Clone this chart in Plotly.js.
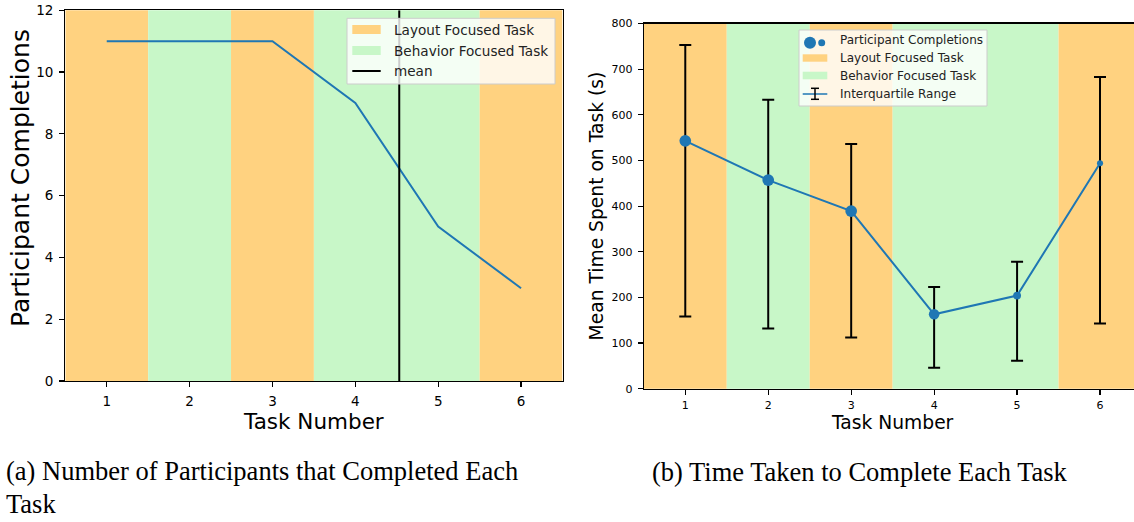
<!DOCTYPE html>
<html>
<head>
<meta charset="utf-8">
<script src="https://cdn.plot.ly/plotly-3.0.1.min.js"></script>
<style>
html,body{margin:0;padding:0;background:#fff;overflow:hidden;}
#chart{width:1142px;height:522px;}
</style>
</head>
<body>
<div id="chart"></div>
<script>
// ---------------- data ----------------
const tasks = [1, 2, 3, 4, 5, 6];
const taskTypes = ['Layout Focused Task', 'Behavior Focused Task', 'Layout Focused Task',
                   'Behavior Focused Task', 'Behavior Focused Task', 'Layout Focused Task'];
const completions = [11, 11, 11, 9, 5, 3];
const meanTaskLine = [4.53];
const meanTime = [543, 457, 389, 163, 204, 494];
const q1Time = [158, 132, 112, 46, 61, 143];
const q3Time = [753, 633, 536, 223, 278, 683];
const xTickLabels = ['1', '2', '3', '4', '5', '6'];

// ---------------- layout helpers ----------------
const W = 1142, H = 522;
const px = x => x / W;
const py = y => 1 - y / H;
const typeColor = {
  'Layout Focused Task': '#FFD280',
  'Behavior Focused Task': '#C8F7C8'
};
const FONT = 'DejaVu Sans';

// group consecutive tasks of the same type into bands
function bands(xref) {
  const out = [];
  let start = 0;
  for (let i = 1; i <= tasks.length; i++) {
    if (i === tasks.length || taskTypes[i] !== taskTypes[start]) {
      out.push({
        type: 'rect', xref: xref, yref: (xref === 'x' ? 'y' : 'y2') + ' domain',
        x0: tasks[start] - 0.5, x1: tasks[i - 1] + 0.5, y0: 0, y1: 1,
        fillcolor: typeColor[taskTypes[start]], line: {width: 0}, layer: 'below'
      });
      start = i;
    }
  }
  return out;
}

// ---------------- traces ----------------
const traces = [
  {
    x: tasks, y: completions, xaxis: 'x', yaxis: 'y', type: 'scatter', mode: 'lines',
    line: {color: '#1f77b4', width: 2}, showlegend: false
  },
  {
    x: [meanTaskLine[0], meanTaskLine[0]], y: [0, 12], xaxis: 'x', yaxis: 'y',
    type: 'scatter', mode: 'lines', line: {color: '#000', width: 2}, showlegend: false
  },
  {
    x: tasks, y: meanTime, xaxis: 'x2', yaxis: 'y2', type: 'scatter', mode: 'lines+markers',
    line: {color: '#1f77b4', width: 2},
    marker: {color: '#1f77b4', size: completions, sizemode: 'area', sizeref: 0.1607,
             opacity: 1, line: {width: 0}},
    error_y: {
      type: 'data', symmetric: false,
      array: q3Time.map((v, i) => v - meanTime[i]),
      arrayminus: meanTime.map((v, i) => v - q1Time[i]),
      color: '#000', thickness: 2, width: 6
    },
    showlegend: false
  }
];

// ---------------- legends (drawn) ----------------
const legendShapes = [
  // left legend
  {type: 'rect', xref: 'paper', yref: 'paper', x0: px(347), x1: px(555), y0: py(18.3), y1: py(84),
   fillcolor: 'rgba(255,255,255,0.8)', line: {color: '#cccccc', width: 1}, layer: 'above'},
  {type: 'rect', xref: 'paper', yref: 'paper', x0: px(352.3), x1: px(380.7), y0: py(25), y1: py(34),
   fillcolor: typeColor['Layout Focused Task'], line: {width: 0}, layer: 'above'},
  {type: 'rect', xref: 'paper', yref: 'paper', x0: px(352.3), x1: px(380.7), y0: py(46), y1: py(55),
   fillcolor: typeColor['Behavior Focused Task'], line: {width: 0}, layer: 'above'},
  {type: 'line', xref: 'paper', yref: 'paper', x0: px(352.3), x1: px(380.7), y0: py(71), y1: py(71),
   line: {color: '#000', width: 2}, layer: 'above'},
  // right legend
  {type: 'rect', xref: 'paper', yref: 'paper', x0: px(799), x1: px(987), y0: py(30), y1: py(106),
   fillcolor: 'rgba(255,255,255,0.8)', line: {color: '#cccccc', width: 1}, layer: 'above'},
  {type: 'circle', xref: 'paper', yref: 'paper', x0: px(804), x1: px(816), y0: py(36.7), y1: py(48.7),
   fillcolor: '#1f77b4', line: {width: 0}, layer: 'above'},
  {type: 'circle', xref: 'paper', yref: 'paper', x0: px(818.2), x1: px(825.2), y0: py(39.2), y1: py(46.2),
   fillcolor: '#1f77b4', line: {width: 0}, layer: 'above'},
  {type: 'rect', xref: 'paper', yref: 'paper', x0: px(802.7), x1: px(827.3), y0: py(54.3), y1: py(61.7),
   fillcolor: typeColor['Layout Focused Task'], line: {width: 0}, layer: 'above'},
  {type: 'rect', xref: 'paper', yref: 'paper', x0: px(802.7), x1: px(827.3), y0: py(71.7), y1: py(79.3),
   fillcolor: typeColor['Behavior Focused Task'], line: {width: 0}, layer: 'above'},
  {type: 'line', xref: 'paper', yref: 'paper', x0: px(802.7), x1: px(827.3), y0: py(94), y1: py(94),
   line: {color: '#1f77b4', width: 1.5}, layer: 'above'},
  {type: 'line', xref: 'paper', yref: 'paper', x0: px(815), x1: px(815), y0: py(88.3), y1: py(99.3),
   line: {color: '#000', width: 1.5}, layer: 'above'},
  {type: 'line', xref: 'paper', yref: 'paper', x0: px(811), x1: px(819), y0: py(88.3), y1: py(88.3),
   line: {color: '#000', width: 1.5}, layer: 'above'},
  {type: 'line', xref: 'paper', yref: 'paper', x0: px(811), x1: px(819), y0: py(99.3), y1: py(99.3),
   line: {color: '#000', width: 1.5}, layer: 'above'}
];

function legText(text, x, y, size) {
  return {text: text, xref: 'paper', yref: 'paper', x: px(x), y: py(y), xanchor: 'left', yanchor: 'middle',
          showarrow: false, font: {family: FONT, size: size, color: '#222'}};
}
const CAP = {family: 'Liberation Serif', size: 26.5, color: '#000'};
const annotations = [
  legText('Layout Focused Task', 391.7, 29.5, 13.6),
  legText('Behavior Focused Task', 391.7, 50.5, 13.6),
  legText('mean', 391.7, 70.5, 13.6),
  legText('Participant Completions', 837.7, 40.5, 12),
  legText('Layout Focused Task', 837.7, 58, 12),
  legText('Behavior Focused Task', 837.7, 75.5, 12),
  legText('Interquartile Range', 837.7, 93.5, 12),
  // left y-axis title (placed like the reference, slightly above axis centre)
  {text: 'Participant Completions', xref: 'paper', yref: 'paper', x: px(20), y: py(178),
   xanchor: 'center', yanchor: 'middle', textangle: -90, showarrow: false,
   font: {family: FONT, size: 25, color: '#000'}},
  // captions
  {text: '(a) Number of Participants that Completed Each', xref: 'paper', yref: 'paper',
   x: px(4), y: py(471), xanchor: 'left', yanchor: 'middle', showarrow: false, font: CAP},
  {text: 'Task', xref: 'paper', yref: 'paper',
   x: px(4), y: py(504), xanchor: 'left', yanchor: 'middle', showarrow: false, font: CAP},
  {text: '(b) Time Taken to Complete Each Task', xref: 'paper', yref: 'paper',
   x: px(859.5), y: py(472), xanchor: 'center', yanchor: 'middle', showarrow: false, font: CAP}
];

const axisCommon = {
  showgrid: false, zeroline: false, showline: true, linecolor: '#000', linewidth: 1.2,
  ticks: 'outside', ticklen: 5, tickwidth: 1.2, tickcolor: '#000', automargin: false,
  fixedrange: true
};

const layout = {
  width: W, height: H,
  margin: {l: 0, r: 0, t: 0, b: 0, pad: 0},
  paper_bgcolor: '#fff', plot_bgcolor: '#fff',
  showlegend: false,
  font: {family: FONT, color: '#000'},
  xaxis: Object.assign({}, axisCommon, {
    domain: [px(65.3), px(562.5)], anchor: 'y', range: [0.5, 6.5], mirror: true,
    tickvals: tasks, ticktext: xTickLabels, tickfont: {family: FONT, size: 13.5, color: '#000'},
    ticklabelstandoff: 3,
    title: {text: 'Task Number', font: {family: FONT, size: 21.5, color: '#000'}, standoff: 2}
  }),
  yaxis: Object.assign({}, axisCommon, {
    domain: [py(381), py(10.3)], anchor: 'x', range: [0, 12], mirror: true, dtick: 2,
    tickfont: {family: FONT, size: 13.5, color: '#000'}, ticklabelstandoff: 3
  }),
  xaxis2: Object.assign({}, axisCommon, {
    domain: [px(643.8), px(1141.5)], anchor: 'y2', range: [0.5, 6.5], mirror: true,
    tickvals: tasks, ticktext: xTickLabels, tickfont: {family: FONT, size: 11, color: '#000'},
    ticklabelstandoff: 1,
    title: {text: 'Task Number', font: {family: FONT, size: 18.7, color: '#000'}, standoff: 1}
  }),
  yaxis2: Object.assign({}, axisCommon, {
    domain: [py(388.7), py(23.5)], anchor: 'x2', range: [0, 800], mirror: true, dtick: 100,
    tickfont: {family: FONT, size: 11, color: '#000'}, ticklabelstandoff: 3,
    title: {text: 'Mean Time Spent on Task (s)', font: {family: FONT, size: 18.7, color: '#000'}, standoff: 2}
  }),
  shapes: bands('x').concat(bands('x2')).concat(legendShapes),
  annotations: annotations
};

Plotly.newPlot('chart', traces, layout, {displayModeBar: false, staticPlot: true});
</script>
</body>
</html>
